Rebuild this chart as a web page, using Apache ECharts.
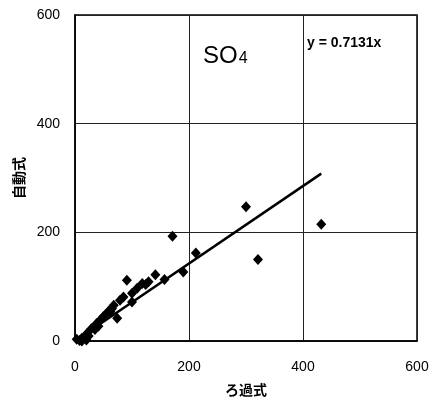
<!DOCTYPE html>
<html>
<head>
<meta charset="utf-8">
<script src="https://cdn.jsdelivr.net/npm/echarts@6/dist/echarts.min.js"></script>
<style>
  html, body { margin: 0; padding: 0; background: #fff; }
  #chart { width: 434px; height: 403px; }
</style>
</head>
<body>
<div id="chart"></div>
<script>
// ろ過式 (x) vs 自動式 (y) の SO4 測定値
const filterVals = [432, 300, 321, 212, 171, 190, 157, 141, 91, 124, 129, 118, 109, 100, 85, 79, 100, 68, 62, 74, 53, 44, 38, 41, 29, 35, 21, 24, 12, 8, 20, 12, 3, 50, 60, 65];
const autoVals   = [215, 247, 150, 162, 193, 127, 113, 122, 112, 104, 109, 106, 97, 88, 81, 75, 72, 66, 54, 42, 48, 38, 32, 27, 23, 21, 14, 9, 5, 1, 2, 0, 3, 45, 56, 60];
// 回帰直線 y = 0.7131x の端点
const fitX = [0, 432];
const fitY = [0, 308];
const axisTicks = [0, 200, 400, 600];

const points = filterVals.map((x, i) => [x, autoVals[i]]);
const fitLine = fitX.map((x, i) => [x, fitY[i]]);

const chart = echarts.init(document.getElementById('chart'));
const labelFont = { color: '#000', fontSize: 14, fontFamily: 'Liberation Sans, Arial, sans-serif' };

chart.setOption({
  animation: false,
  grid: { left: 75, right: 17, top: 15, bottom: 62 },
  xAxis: {
    type: 'value',
    min: axisTicks[0],
    max: axisTicks[axisTicks.length - 1],
    interval: 200,
    name: 'ろ過式',
    nameLocation: 'middle',
    nameGap: 42,
    nameTextStyle: { fontSize: 14, fontWeight: 'bold', color: '#000', fontFamily: 'Noto Sans CJK JP' },
    axisLine: { show: true, lineStyle: { color: '#000', width: 1.5 } },
    axisTick: { show: false },
    axisLabel: Object.assign({ margin: 19 }, labelFont),
    splitLine: { show: true, lineStyle: { color: '#222', width: 1 } }
  },
  yAxis: {
    type: 'value',
    min: axisTicks[0],
    max: axisTicks[axisTicks.length - 1],
    interval: 200,
    name: '自動式',
    nameLocation: 'middle',
    nameGap: 46,
    nameRotate: 90,
    nameTextStyle: { fontSize: 14, fontWeight: 'bold', color: '#000', fontFamily: 'Noto Sans CJK JP' },
    axisLine: { show: true, lineStyle: { color: '#000', width: 1.5 } },
    axisTick: { show: false },
    axisLabel: Object.assign({ margin: 15 }, labelFont),
    splitLine: { show: true, lineStyle: { color: '#222', width: 1 } }
  },
  graphic: [
    {
      type: 'rect',
      shape: { x: 75, y: 15, width: 342, height: 326 },
      style: { fill: 'none', stroke: '#000', lineWidth: 1.5 },
      silent: true
    },
    {
      type: 'text',
      left: 203,
      top: 44,
      style: {
        text: '{a|SO}{b|4}',
        rich: {
          a: { fontSize: 24, fontFamily: 'Liberation Sans, Arial', fill: '#000', verticalAlign: 'bottom' },
          b: { fontSize: 16, fontFamily: 'Liberation Sans, Arial', fill: '#000', verticalAlign: 'bottom', padding: [0, 0, 1, 1] }
        }
      }
    },
    {
      type: 'text',
      left: 307,
      top: 36,
      style: {
        text: 'y = 0.7131x',
        fontSize: 14,
        fontWeight: 'bold',
        fontFamily: 'Liberation Sans, Arial',
        fill: '#000'
      }
    }
  ],
  series: [
    {
      type: 'line',
      data: fitLine,
      symbol: 'none',
      lineStyle: { color: '#000', width: 2.5 },
      z: 3
    },
    {
      type: 'scatter',
      data: points,
      symbol: 'diamond',
      symbolSize: [10, 11],
      itemStyle: { color: '#000', opacity: 1 },
      z: 4
    }
  ]
});
</script>
</body>
</html>
